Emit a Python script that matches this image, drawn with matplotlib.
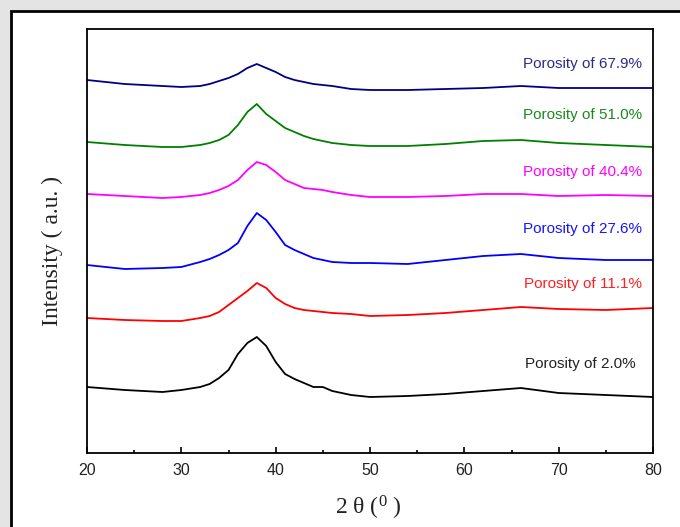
import matplotlib
matplotlib.use("Agg")
import matplotlib.pyplot as plt
from matplotlib.patches import Rectangle

# 2theta positions (deg)
two_theta = [20, 24, 28, 30, 32, 33, 34, 35, 36, 37, 38, 39, 40, 41, 42,
             43, 44, 45, 46, 48, 50, 54, 58, 62, 66, 70, 75, 80]

# intensities (a.u., stacked with offsets as in the figure)
p679 = [373, 369, 367, 366, 367, 369, 372, 375, 379, 385, 389, 385, 381, 376, 373,
        371, 369, 368, 367, 364, 363, 363, 364, 365, 367, 365, 365, 365]
p510 = [311, 308, 306, 306, 308, 310, 313, 318, 328, 341, 349, 339, 332, 325, 321,
        317, 314, 312, 310, 308, 307, 307, 309, 312, 313, 310, 308, 306]
p404 = [259, 257, 255, 256, 258, 260, 263, 267, 273, 283, 291, 288, 281, 273, 269,
        265, 264, 263, 261, 258, 256, 256, 257, 259, 259, 257, 258, 257]
p276 = [188, 184, 185, 186, 191, 194, 198, 203, 210, 227, 240, 233, 221, 208, 203,
        199, 195, 193, 191, 190, 190, 189, 193, 197, 199, 195, 193, 193]
p111 = [135, 133, 132, 132, 135, 137, 141, 148, 155, 162, 170, 165, 155, 149, 145,
        143, 142, 141, 140, 139, 137, 138, 140, 143, 146, 144, 143, 145]
p020 = [66, 63, 61, 63, 66, 69, 75, 83, 99, 110, 116, 107, 91, 79, 74,
        70, 66, 66, 62, 58, 56, 57, 59, 62, 65, 60, 58, 56]

series = [p679, p510, p404, p276, p111, p020]
labels = ["Porosity of 67.9%", "Porosity of 51.0%", "Porosity of 40.4%",
          "Porosity of 27.6%", "Porosity of 11.1%", "Porosity of 2.0%"]
colors = ["#000080", "#008000", "#ff00ff", "#0000ff", "#ff0000", "#000000"]
text_colors = ["#2b2b8c", "#1a8a1a", "#ff00ff", "#1515ff", "#ff2020", "#222222"]
label_y = [389, 338, 281, 224, 169, 89]
label_x = [78.8, 78.8, 78.8, 78.8, 78.8, 78.2]

W, H = 680, 527
fig = plt.figure(figsize=(W / 100, H / 100), dpi=100)
fig.patch.set_facecolor("#e4e4e4")
# white panel with black border, behind the axes
panel = Rectangle((11 / W, -0.1), 1.2, 1 - 11 / H + 0.1,
                  transform=fig.transFigure, facecolor="white",
                  edgecolor="black", linewidth=2, zorder=-10)
fig.patches.append(panel)

ax = fig.add_axes([87 / W, 1 - 453 / H, (653 - 87) / W, (453 - 29) / H])
ax.set_zorder(5)
for ys, c in zip(series, colors):
    ax.plot(two_theta, ys, color=c, linewidth=1.3)

for lab, tc, lx, ly in zip(labels, text_colors, label_x, label_y):
    ax.text(lx, ly, lab, color=tc, ha="right", va="center",
            fontsize=11, family="Liberation Sans")

ax.set_xlim(20, 80)
ax.set_ylim(0, 424)
ax.set_xticks(range(20, 81, 10))
ax.set_xticks(range(25, 80, 10), minor=True)
ax.set_yticks([])
ax.tick_params(axis="x", which="major", direction="in", length=4, width=1.2,
               labelsize=11.5, labelcolor="#222222", pad=7)
ax.tick_params(axis="x", which="minor", direction="in", length=2.5, width=1.2)
for lbl in ax.get_xticklabels():
    lbl.set_family("Liberation Sans")
for s in ax.spines.values():
    s.set_linewidth(1.3)

plt.rcParams["mathtext.fontset"] = "custom"
plt.rcParams["mathtext.rm"] = "Liberation Serif"
fig.text(52 / W, 1 - 251 / H, "Intensity ( a.u. )", rotation=90, ha="center",
         va="center", fontsize=17, family="Liberation Serif", color="#222222",
         zorder=6)
fig.text(368 / W, 1 - 508 / H, r"2 θ ($\mathrm{^{0}}$ )", ha="center",
         va="center", fontsize=17, family="Liberation Serif", color="#222222",
         zorder=6)

fig.savefig("out.png", dpi=100, facecolor=fig.get_facecolor())
